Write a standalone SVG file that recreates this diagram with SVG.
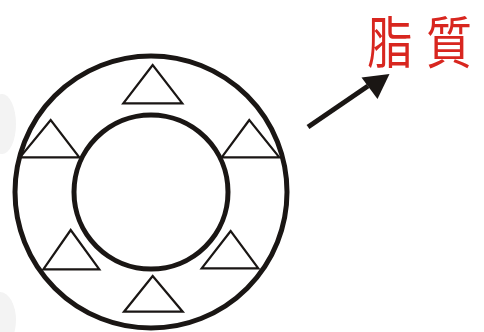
<svg xmlns="http://www.w3.org/2000/svg" width="484" height="332" viewBox="0 0 484 332">
<style>
.ring{fill:none;stroke:#1a1614;stroke-width:5}
.tri{fill:none;stroke:#1a1614;stroke-width:2.2;stroke-linejoin:miter}
.lbl{font-family:"Noto Sans CJK TC","Noto Sans CJK JP",serif;font-size:56px;fill:#d8261f;text-anchor:middle}
</style>
<rect width="484" height="332" fill="#ffffff"/>
<g id="watermark" fill="#f3f3f3">
<ellipse cx="2" cy="124" rx="14" ry="30"/>
<ellipse cx="0" cy="320" rx="16" ry="28"/>
</g>
<g id="outer-circle"><circle class="ring" cx="151" cy="192" r="136"/></g>
<g id="inner-circle"><circle class="ring" cx="151" cy="192" r="77"/></g>
<g id="triangles">
<polygon class="tri" points="152.7,65 123.3,103.3 182.3,103.3"/>
<polygon class="tri" points="50.7,120 20,157.3 79.3,157.3"/>
<polygon class="tri" points="249.3,120 221.7,157.3 279.3,157.3"/>
<polygon class="tri" points="70.7,230 43.3,269.3 99.3,269.3"/>
<polygon class="tri" points="230.7,231 201.7,268.3 258.3,268.3"/>
<polygon class="tri" points="152.7,276 124,311.7 182.7,311.7"/>
</g>
<g id="connectors">
<line x1="308" y1="127" x2="368" y2="86" stroke="#1a1614" stroke-width="5"/>
<polygon points="389.5,74 361.5,77.5 377.5,99" fill="#1a1614"/>
</g>
<g id="label">
<text class="lbl" transform="translate(390,63) scale(0.82,1)">脂</text>
<text class="lbl" transform="translate(449,63) scale(0.82,1)">質</text>
</g>
</svg>
